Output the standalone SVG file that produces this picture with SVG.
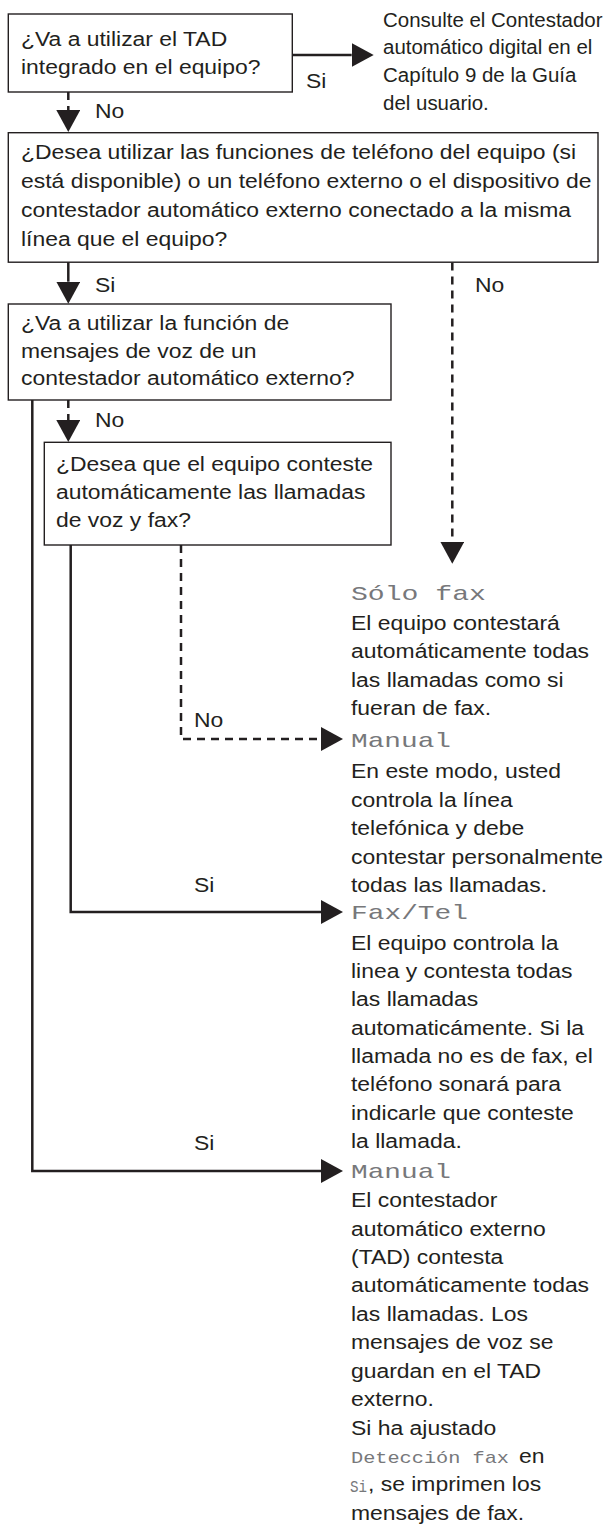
<svg xmlns="http://www.w3.org/2000/svg" width="607" height="1532" viewBox="0 0 607 1532">
<style>
.bg{fill:#ffffff}
.box{fill:#ffffff;stroke:#231f20;stroke-width:1.4}
.t{font-family:'Liberation Sans',Arial,Helvetica,sans-serif;font-size:19.5px;fill:#231f20}
.m{font-family:'Liberation Mono','DejaVu Sans Mono',monospace;font-size:21px;fill:#77787b}
.ms{font-family:'Liberation Mono','DejaVu Sans Mono',monospace;font-size:17px;fill:#77787b}
.ln{fill:none;stroke:#231f20;stroke-width:2.5}
.dash{stroke-dasharray:8 6}
</style>
<defs>
<marker id="ah" markerUnits="userSpaceOnUse" markerWidth="22" markerHeight="24" refX="0" refY="12" orient="auto">
<path d="M0,0 L22,12 L0,24 Z" fill="#231f20"/>
</marker>
</defs>
<rect class="bg" x="0" y="0" width="607" height="1532"/>

<g id="connectors">
<path class="ln" d="M292.3,55 H351.7" marker-end="url(#ah)"/>
<text class="t" transform="translate(306 0) scale(1.175 1)" x="0" y="88.3">Si</text>
<path class="ln dash" d="M68.3,92 V110" marker-end="url(#ah)"/>
<text class="t" transform="translate(95 0) scale(1.175 1)" x="0" y="118">No</text>
<path class="ln" d="M68.3,262 V281.7" marker-end="url(#ah)"/>
<text class="t" transform="translate(95 0) scale(1.175 1)" x="0" y="291.7">Si</text>
<path class="ln dash" d="M452.3,262.5 V541.7" marker-end="url(#ah)"/>
<text class="t" transform="translate(475 0) scale(1.175 1)" x="0" y="291.7">No</text>
<path class="ln dash" d="M68.3,400 V420" marker-end="url(#ah)"/>
<text class="t" transform="translate(95 0) scale(1.175 1)" x="0" y="426.7">No</text>
<path class="ln dash" d="M181,545 V739 H321" marker-end="url(#ah)"/>
<text class="t" transform="translate(194 0) scale(1.175 1)" x="0" y="726.7">No</text>
<path class="ln" d="M70.7,545 V912 H321" marker-end="url(#ah)"/>
<text class="t" transform="translate(194 0) scale(1.175 1)" x="0" y="892">Si</text>
<path class="ln" d="M32.3,400 V1171 H321" marker-end="url(#ah)"/>
<text class="t" transform="translate(194 0) scale(1.175 1)" x="0" y="1150">Si</text>
</g>

<g id="q1">
<rect class="box" x="8.3" y="14" width="284" height="78"/>
<text class="t" transform="translate(21 0) scale(1.175 1)"><tspan x="0" y="46">¿Va a utilizar el TAD</tspan><tspan x="0" y="74">integrado en el equipo?</tspan></text>
</g>

<g id="r-tad">
<text class="t" transform="translate(383 0) scale(1.05 1)"><tspan x="0" y="26.7">Consulte el Contestador</tspan><tspan x="0" y="54.3">automático digital en el</tspan><tspan x="0" y="81.7">Capítulo 9 de la Guía</tspan><tspan x="0" y="110">del usuario.</tspan></text>
</g>

<g id="q2">
<rect class="box" x="8.3" y="132.7" width="589.7" height="129.5"/>
<text class="t" transform="translate(21 0) scale(1.175 1)"><tspan x="0" y="159">¿Desea utilizar las funciones de teléfono del equipo (si</tspan><tspan x="0" y="188">está disponible) o un teléfono externo o el dispositivo de</tspan><tspan x="0" y="217">contestador automático externo conectado a la misma</tspan><tspan x="0" y="246">línea que el equipo?</tspan></text>
</g>

<g id="q3">
<rect class="box" x="8.3" y="304" width="382.7" height="96"/>
<text class="t" transform="translate(21 0) scale(1.175 1)"><tspan x="0" y="330.5">¿Va a utilizar la función de</tspan><tspan x="0" y="358">mensajes de voz de un</tspan><tspan x="0" y="385.5">contestador automático externo?</tspan></text>
</g>

<g id="q4">
<rect class="box" x="44.3" y="442.3" width="346.7" height="102.7"/>
<text class="t" transform="translate(56 0) scale(1.175 1)"><tspan x="0" y="471">¿Desea que el equipo conteste</tspan><tspan x="0" y="499">automáticamente las llamadas</tspan><tspan x="0" y="527">de voz y fax?</tspan></text>
</g>

<g id="r-solofax">
<text class="m" x="351" y="600" textLength="135" lengthAdjust="spacingAndGlyphs">Sólo fax</text>
<text class="t" transform="translate(351 0) scale(1.175 1)"><tspan x="0" y="630">El equipo contestará</tspan><tspan x="0" y="658.3">automáticamente todas</tspan><tspan x="0" y="686.7">las llamadas como si</tspan><tspan x="0" y="715">fueran de fax.</tspan></text>
</g>

<g id="r-manual1">
<text class="m" x="351" y="747" textLength="100" lengthAdjust="spacingAndGlyphs">Manual</text>
<text class="t" transform="translate(351 0) scale(1.175 1)"><tspan x="0" y="778">En este modo, usted</tspan><tspan x="0" y="807">controla la línea</tspan><tspan x="0" y="835.5">telefónica y debe</tspan><tspan x="0" y="864">contestar personalmente</tspan><tspan x="0" y="892.5">todas las llamadas.</tspan></text>
</g>

<g id="r-faxtel">
<text class="m" x="351" y="919" textLength="117" lengthAdjust="spacingAndGlyphs">Fax/Tel</text>
<text class="t" transform="translate(351 0) scale(1.175 1)"><tspan x="0" y="950">El equipo controla la</tspan><tspan x="0" y="978.5">linea y contesta todas</tspan><tspan x="0" y="1006.5">las llamadas</tspan><tspan x="0" y="1035">automaticámente. Si la</tspan><tspan x="0" y="1063.5">llamada no es de fax, el</tspan><tspan x="0" y="1091.5">teléfono sonará para</tspan><tspan x="0" y="1120">indicarle que conteste</tspan><tspan x="0" y="1148.5">la llamada.</tspan></text>
</g>

<g id="r-manual2">
<text class="m" x="351" y="1178" textLength="100" lengthAdjust="spacingAndGlyphs">Manual</text>
<text class="t" transform="translate(351 0) scale(1.175 1)"><tspan x="0" y="1207.5">El contestador</tspan><tspan x="0" y="1236">automático externo</tspan><tspan x="0" y="1264.5">(TAD) contesta</tspan><tspan x="0" y="1292.5">automáticamente todas</tspan><tspan x="0" y="1321">las llamadas. Los</tspan><tspan x="0" y="1349.5">mensajes de voz se</tspan><tspan x="0" y="1378">guardan en el TAD</tspan><tspan x="0" y="1406.5">externo.</tspan><tspan x="0" y="1435">Si ha ajustado</tspan></text>
<text class="ms" x="351" y="1463" textLength="158" lengthAdjust="spacingAndGlyphs">Detección fax</text>
<text class="t" transform="translate(519 0) scale(1.175 1)" x="0" y="1463">en</text>
<text class="ms" x="350" y="1491.5" textLength="17" lengthAdjust="spacingAndGlyphs">Si</text>
<text class="t" transform="translate(368 0) scale(1.175 1)" x="0" y="1491.5">, se imprimen los</text>
<text class="t" transform="translate(351 0) scale(1.175 1)" x="0" y="1520">mensajes de fax.</text>
</g>
</svg>
